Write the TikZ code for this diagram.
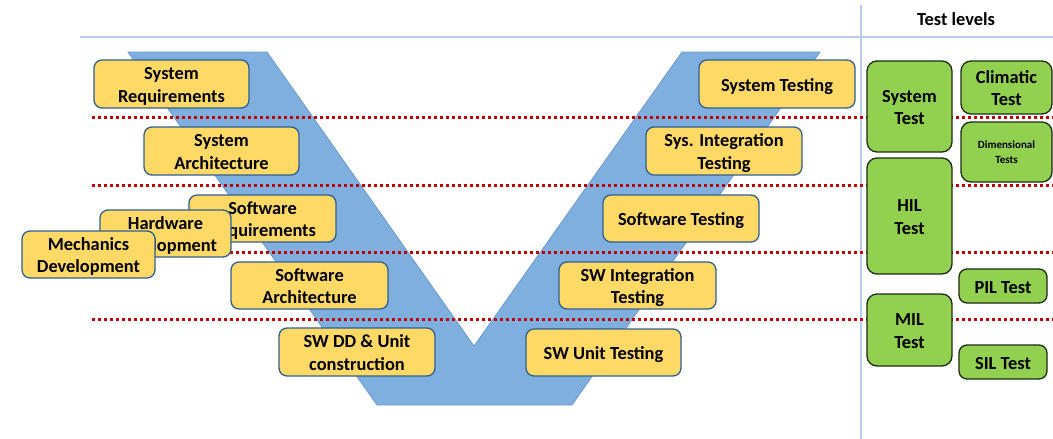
\documentclass[tikz,border=0pt]{standalone}
\usepackage{fontspec}
\setmainfont{Carlito}
\definecolor{vblue}{HTML}{7FAFDE}
\definecolor{vedge}{HTML}{6A9ACB}
\definecolor{rule}{HTML}{B4CDE8}
\definecolor{sepred}{HTML}{C00000}
\definecolor{phasefill}{HTML}{FFD966}
\definecolor{phaseline}{HTML}{2F5F8F}
\definecolor{testfill}{HTML}{92D050}
\definecolor{testline}{HTML}{1E2A14}
% struts at the start and end of a label keep its lines at a fixed place in the box
\newcommand{\tstr}{\rule{0pt}{18pt}}
\newcommand{\bstr}{\rule[-4pt]{0pt}{4pt}}
\newcommand{\tstrs}{\rule{0pt}{10pt}}
\newcommand{\bstrs}{\rule[-3pt]{0pt}{3pt}}
\tikzset{
  boxtext/.style={inner sep=0pt, align=center, font=\fontsize{18.4}{22.5}\selectfont\bfseries},
  phase/.style={boxtext, draw=phaseline, fill=phasefill, rounded corners=8pt, line width=1.3pt},
  testbox/.style={boxtext, draw=testline, fill=testfill, rounded corners=10pt, line width=1.3pt},
  smalltext/.style={font=\fontsize{11}{15}\selectfont\bfseries},
  levelsep/.style={draw=sepred, line width=3pt, dash pattern=on 3pt off 3pt},
  bx/.style 2 args={minimum width=#1pt, minimum height=#2pt},
}
\begin{document}
\begin{tikzpicture}[x=1pt,y=-1pt]
\useasboundingbox (0,0) rectangle (1053,439);

% frame lines
\coordinate (ruleL) at (80,37);
\coordinate (ruleR) at (1053,37);
\coordinate (colT) at (861,5);
\coordinate (colB) at (861,439);
\draw[rule, line width=1.2pt] (ruleL) -- (ruleR);
\draw[rule, line width=1.2pt] (colT) -- (colB);
\node[font=\fontsize{18.4}{22}\selectfont\bfseries] (levels) at (956,19) {Test levels};

% the V band
\draw[vedge, fill=vblue, line width=0.8pt]
  (128,52) -- (267,52) -- (474,346) -- (682,52) -- (820,52) -- (572,405) -- (377,405) -- cycle;

% level separators
\foreach \yy/\nm in {117/a,185/b,252/c,319/d}{
  \coordinate (sep\nm L) at (92,\yy);
  \coordinate (sep\nm R) at (1053,\yy);
  \draw[levelsep] (sep\nm L) -- (sep\nm R);
}

% development side
\node[phase, bx={155}{48}] (sysreq) at (171.5,84) {\tstr System\\Requirements\bstr};
\node[phase, bx={155}{48}] (sysarch) at (221.5,151) {\tstr System\\Architecture\bstr};
\node[phase, bx={147}{47}] (swreq) at (262.5,218.5) {\tstr Software\\Requirements\bstr};
\node[phase, bx={131}{47}] (hwdev) at (165.5,233.5) {\tstr Hardware\\Development\bstr};
\node[phase, bx={133}{47}] (mechdev) at (88.5,254.5) {\tstr Mechanics\\Development\bstr};
\node[phase, bx={157}{47}] (swarch) at (309.5,285.5) {\tstr Software\\Architecture\bstr};
\node[phase, bx={156}{48}] (swdd) at (357,352) {\tstr SW DD \& Unit\\construction\bstr};

% testing side
\node[phase, bx={155}{47}] (swunit) at (603.5,352.5) {\tstr SW Unit Testing\bstr};
\node[phase, bx={157}{47}] (swint) at (637.5,285.5) {\tstr SW Integration\\Testing\bstr};
\node[phase, bx={156}{47}] (swtest) at (681,218.5) {\tstr Software Testing\bstr};
\node[phase, bx={156}{48}] (sysint) at (724,151) {\tstr Sys. Integration\\Testing\bstr};
\node[phase, bx={156}{48}] (systest) at (777,84) {\tstr System Testing\bstr};

% test levels
\node[testbox, bx={85}{91}] (systst) at (909.5,106.5) {\tstr System\\Test\bstr};
\node[testbox, bx={85}{116}] (hil) at (909.5,216) {\tstr HIL\\Test\bstr};
\node[testbox, bx={85}{72}] (mil) at (909.5,330) {\tstr MIL\\Test\bstr};
\node[testbox, bx={91}{53}] (climatic) at (1006.5,87.5) {\tstr Climatic\\Test\bstr};
\node[testbox, smalltext, bx={91}{60}] (dim) at (1006.5,152) {\tstrs Dimensional\\Tests\bstrs};
\node[testbox, rounded corners=8pt, bx={88}{34}] (pil) at (1003,286) {\tstr PIL Test\bstr};
\node[testbox, rounded corners=8pt, bx={88}{34}] (sil) at (1003,362) {\tstr SIL Test\bstr};
\end{tikzpicture}
\end{document}
